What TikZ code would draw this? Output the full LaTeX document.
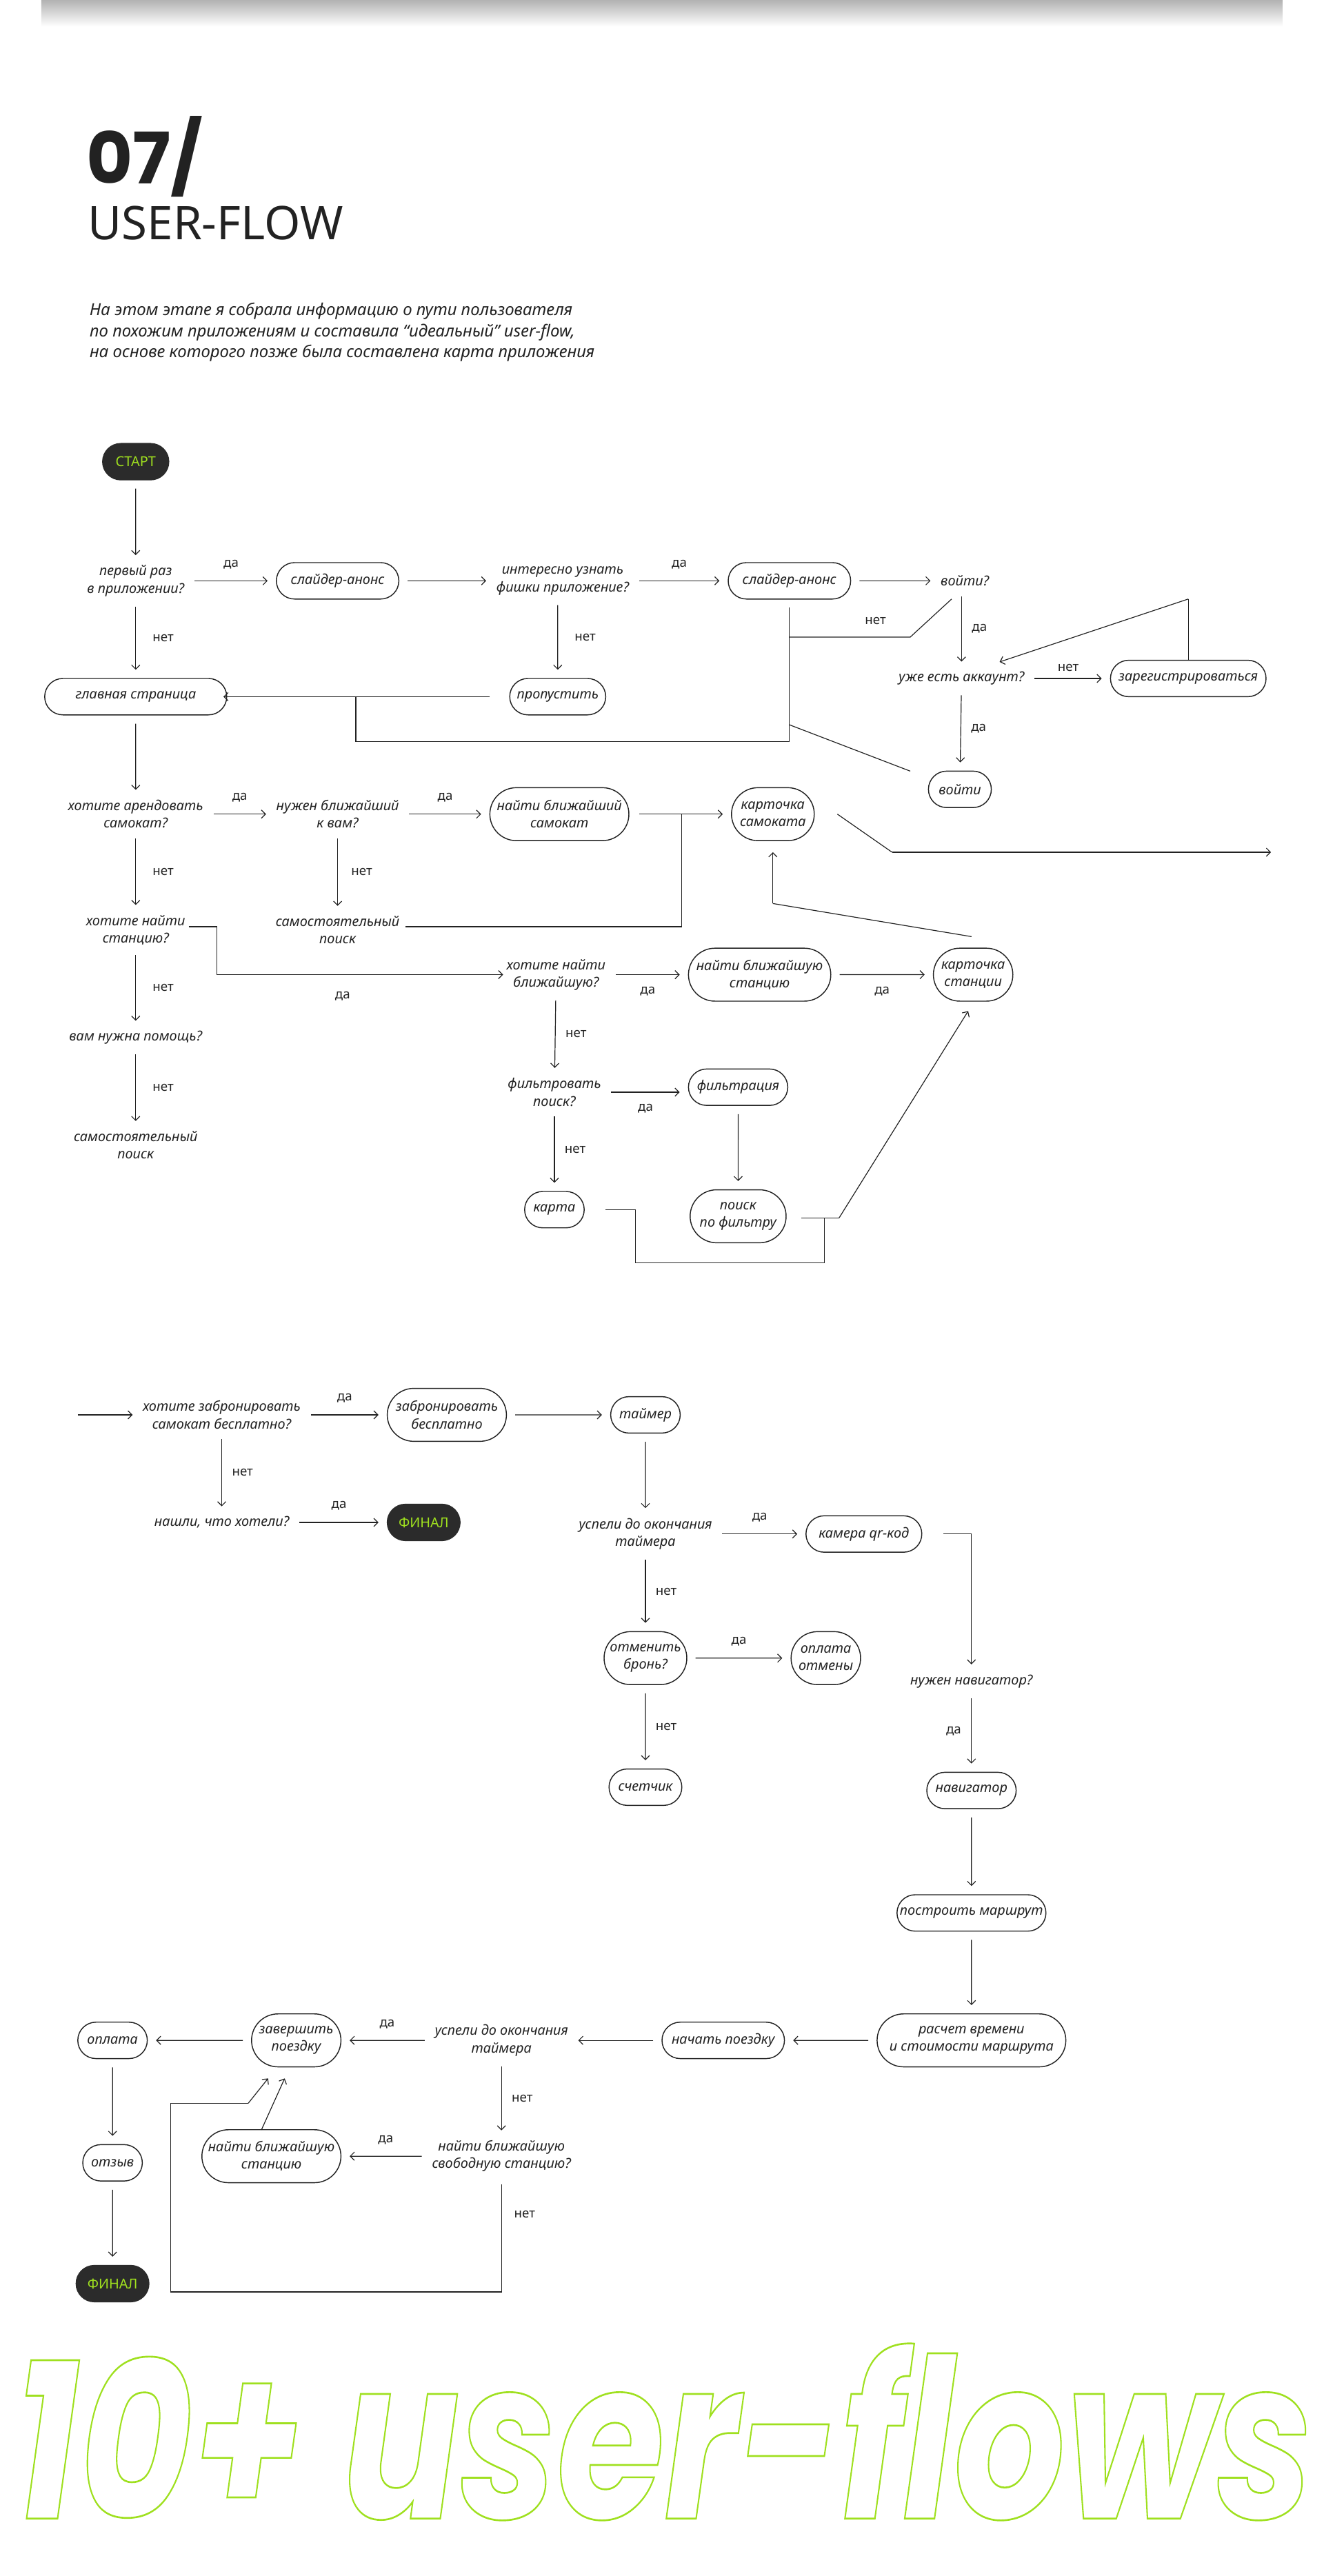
\documentclass[tikz,border=0pt]{standalone}
\usepackage{fontspec}
\setmainfont{Noto Sans}
\newfontfamily\bigf{Poppins}
\usetikzlibrary{arrows.meta,shapes.misc}
\definecolor{lime}{HTML}{9FE01F}
\definecolor{dark}{HTML}{2B2B2B}
\definecolor{ink}{HTML}{222222}
\begin{document}
\begin{tikzpicture}[x=1pt,y=-1pt,
 every node/.style={font=\fontsize{8.3}{10.5}\selectfont\itshape, align=center, inner sep=1pt, text=ink},
 pill/.style={draw=ink, line width=0.6pt, rounded rectangle, minimum height=22, inner xsep=5},
 tall/.style={pill, minimum height=32},
 dark/.style={pill, fill=dark, draw=dark, text=lime, font=\fontsize{8.3}{10}\selectfont\upshape},
 lbl/.style={font=\fontsize{7.8}{10}\selectfont\upshape},
 arr/.style={draw=ink,-{Straight Barb[length=2.5pt,width=5pt]}, line width=0.5pt, shorten <=5pt, shorten >=5pt},
 ln/.style={draw=ink,line width=0.5pt},
 la/.style={draw=ink,-{Straight Barb[length=2.5pt,width=5pt]}, line width=0.5pt}]
\useasboundingbox (0,0) rectangle (800,1556.7);
\shade[top color=black!30, bottom color=white] (25,0) rectangle (775,16);
% heading
\node[anchor=base west, font=\bigf\fontsize{43}{43}\selectfont\bfseries, inner sep=0] (h1) at (52,111) {07/};
\node[anchor=base west, font=\fontsize{28}{28}\selectfont, inner sep=0] (h2) at (53,145) {USER-FLOW};
\node[anchor=north west, align=left, font=\fontsize{10}{12.6}\selectfont\itshape, inner sep=0] (para) at (54,183)
 {На этом этапе я собрала информацию о пути пользователя\\по похожим приложениям и составила “идеальный” user-flow,\\на основе которого позже была составлена карта приложения};
% ---- upper flow
\node[dark, minimum width=50] (start) at (82,279) {СТАРТ};
\node (q1) at (82,351) {первый раз\\в приложении?};
\node[pill, minimum width=84] (sl1) at (204,351) {слайдер-анонс};
\node (q2) at (340,351) {интересно узнать\\фишки приложение?};
\node[pill, minimum width=84] (sl2) at (477,351) {слайдер-анонс};
\node (q3) at (583,351) {войти?};
\node (q4) at (581,410) {уже есть аккаунт?};
\node[pill, minimum width=104] (reg) at (718,410) {зарегистрироваться};
\node[pill, minimum width=48] (login) at (580,477) {войти};
\node[pill, minimum width=68] (skip) at (337,421) {пропустить};
\node[pill, minimum width=120] (main) at (82,421) {главная страница};
\draw[arr] (start) -- (q1);
\draw[arr] (q1) -- (sl1) node[lbl, midway, above=6pt] {да};
\draw[arr] (sl1) -- (q2);
\draw[arr] (q2) -- (sl2) node[lbl, midway, above=6pt] {да};
\draw[arr] (sl2) -- (q3);
\draw[arr] (q1) -- (main) node[lbl, midway, right=9pt] {нет};
\draw[arr] (q2.south -| skip) -- (skip) node[lbl, midway, right=9pt] {нет};
\draw[arr] (q3.south -| q4) -- (q4) node[lbl, midway, right=5pt] {да};
\draw[arr] (q4) -- (reg) node[lbl, midway, above=3pt] {нет};
\draw[arr] (q4) -- (login) node[lbl, midway, right=5pt] {да};
\coordinate (r1) at (718,362);
\coordinate (r2) at (604,400);
\draw[ln] (reg.north) -- (r1);
\draw[la] (r1) -- (r2);
\coordinate (w1) at (575,362); \coordinate (w2) at (550,385); \coordinate (w3) at (477,385);
\draw[ln] (w1) -- (w2) -- (w3);
\node[lbl] at (529,375) {нет};
\coordinate (s2b) at (477,367); \coordinate (s2c) at (477,448); \coordinate (s2d) at (477,438);
\coordinate (l1) at (550,466);
\draw[ln] (s2b) -- (s2c) -- (215,448) -- (215,421);
\draw[ln] (s2d) -- (l1);
\coordinate (sk1) at (296,421); \coordinate (mn1) at (135,421);
\draw[la] (sk1) -- (mn1);
% ---- rent
\node (q5) at (82,492) {хотите арендовать\\самокат?};
\node (q6) at (204,492) {нужен ближайший\\к вам?};
\node[tall, minimum width=94] (near) at (338,492) {найти ближайший\\самокат};
\node[tall, minimum width=60] (card) at (467,492) {карточка\\самоката};
\node (q7) at (82,562) {хотите найти\\станцию?};
\node (self1) at (204,562) {самостоятельный\\поиск};
\node (q8) at (82,627) {вам нужна помощь?};
\node (self2) at (82,692) {самостоятельный\\поиск};
\draw[arr] (main) -- (q5);
\draw[arr] (q5) -- (q6) node[lbl, midway, above=6pt] {да};
\draw[arr] (q6) -- (near) node[lbl, midway, above=6pt] {да};
\coordinate (j1) at (412,492);
\draw[ln] (near.east) ++(6,0) -- (j1);
\draw[arr, shorten <=0pt] (j1) -- (card);
\draw[ln] (j1) -- (412,560) -- (245,560);
\draw[arr] (q5) -- (q7) node[lbl, midway, right=9pt] {нет};
\draw[arr] (q6) -- (self1) node[lbl, midway, right=7pt] {нет};
\draw[arr] (q7) -- (q8) node[lbl, midway, right=9pt] {нет};
\draw[arr] (q8) -- (self2) node[lbl, midway, right=9pt] {нет};
\coordinate (c1) at (506,492); \coordinate (c2) at (539,515); \coordinate (c3) at (768,515);
\draw[ln] (c1) -- (c2); \draw[la] (c2) -- (c3);
% stations
\node (q9) at (336,589) {хотите найти\\ближайшую?};
\node[tall, minimum width=96] (nst) at (459,589) {найти ближайшую\\станцию};
\node[tall, minimum width=58] (cst) at (588,589) {карточка\\станции};
\coordinate (t1) at (114,560);
\draw[ln] (t1) -- (131,560) -- (131,589);
\draw[la] (131,589) -- (304,589);
\node[lbl] at (207,602) {да};
\draw[arr] (q9) -- (nst) node[lbl, midway, below=6pt] {да};
\draw[arr] (nst) -- (cst) node[lbl, midway, below=6pt] {да};
\coordinate (u1) at (587,566); \coordinate (u2) at (467,546); \coordinate (u3) at (467,515);
\draw[ln] (u1) -- (u2); \draw[la] (u2) -- (u3);
\node (q10) at (335,660) {фильтровать\\поиск?};
\node[pill, minimum width=70] (filt) at (446,657) {фильтрация};
\node[tall, minimum width=68] (pf) at (446,735) {поиск\\по фильтру};
\node[pill, minimum width=46] (map) at (335,731) {карта};
\draw[arr] (q9) -- (q10) node[lbl, midway, right=5pt] {нет};
\draw[arr] (q10.east) -- (q10.east -| filt.west) node[lbl, midway, below=6pt] {да};
\draw[arr] (filt) -- (pf);
\draw[arr] (q10) -- (map) node[lbl, midway, right=5pt] {нет};
\coordinate (m1) at (366,731); \coordinate (m2) at (498,736); \coordinate (p1) at (484,736);
\coordinate (p2) at (507,736); \coordinate (p3) at (585,611);
\draw[ln] (m1) -- (384,731) -- (384,763) -- (498,763) -- (m2);
\draw[ln] (p1) -- (p2); \draw[la] (p2) -- (p3);
% ---- lower section
\node (b1) at (134,855) {хотите забронировать\\самокат бесплатно?};
\node[tall, minimum width=82] (book) at (270,855) {забронировать\\бесплатно};
\node[pill, minimum width=52] (tim) at (390,855) {таймер};
\node (b2) at (134,920) {нашли, что хотели?};
\node[dark, minimum width=54] (fin1) at (256,920) {ФИНАЛ};
\coordinate (e1) at (47,855);
\draw[arr, shorten <=0pt] (e1) -- (b1);
\draw[arr] (b1) -- (book) node[lbl, midway, above=6pt] {да};
\draw[arr] (book) -- (tim);
\draw[arr] (b1) -- (b2) node[lbl, midway, right=5pt] {нет};
\draw[arr] (b2) -- (fin1) node[lbl, midway, above=6pt] {да};
\node (t2) at (390,927) {успели до окончания\\таймера};
\node[pill, minimum width=80] (cam) at (522,927) {камера qr-код};
\node (nav) at (587,1016) {нужен навигатор?};
\node[pill, minimum width=64] (navi) at (587,1082) {навигатор};
\node[pill, minimum width=100] (route) at (587,1156) {построить маршрут};
\node[tall, minimum width=112] (calc) at (587,1233) {расчет времени\\и стоимости маршрута};
\node[pill, minimum width=84] (go) at (437,1233) {начать поездку};
\draw[arr] (tim) -- (t2);
\draw[arr] (t2) -- (cam) node[lbl, midway, above=6pt] {да};
\coordinate (k1) at (570,927);
\draw[ln] (k1) -- (587,927);
\draw[arr, shorten <=0pt] (587,927) -- (nav);
\draw[arr] (nav) -- (navi) node[lbl, midway, left=5pt] {да};
\draw[arr] (navi) -- (route);
\draw[arr] (route) -- (calc);
\draw[arr] (calc) -- (go);
\node[tall, minimum width=60] (cancel) at (390,1002) {отменить\\бронь?};
\node[tall, minimum width=52] (payc) at (499,1002) {оплата\\отмены};
\node[pill, minimum width=54] (cnt) at (390,1080) {счетчик};
\draw[arr] (t2) -- (cancel) node[lbl, midway, right=5pt] {нет};
\draw[arr] (cancel) -- (payc) node[lbl, midway, above=6pt] {да};
\draw[arr] (cancel) -- (cnt) node[lbl, midway, right=5pt] {нет};
\node (t3) at (303,1233) {успели до окончания\\таймера};
\node[tall, minimum width=64] (fin) at (179,1233) {завершить\\поездку};
\node[pill, minimum width=52] (pay) at (68,1233) {оплата};
\node[pill, minimum width=46] (rev) at (68,1307) {отзыв};
\node[dark, minimum width=54] (fin2) at (68,1380) {ФИНАЛ};
\node (t4) at (303,1303) {найти ближайшую\\свободную станцию?};
\node[tall, minimum width=94] (nst2) at (164,1303) {найти ближайшую\\станцию};
\draw[arr] (go) -- (t3);
\draw[arr] (t3) -- (fin) node[lbl, midway, above=6pt] {да};
\draw[arr] (fin) -- (pay);
\draw[arr] (pay) -- (rev);
\draw[arr] (rev) -- (fin2);
\draw[arr] (t3) -- (t4) node[lbl, midway, right=5pt] {нет};
\draw[arr] (t4) -- (nst2) node[lbl, midway, above=6pt] {да};
\coordinate (n1) at (158,1287); \coordinate (n2) at (172,1256);
\draw[la] (n1) -- (n2);
\coordinate (o1) at (303,1320); \coordinate (o2) at (150,1271); \coordinate (o3) at (162,1256);
\draw[ln] (o1) -- (303,1385) -- (103,1385) -- (103,1271) -- (o2);
\draw[la] (o2) -- (o3);
\node[lbl] at (317,1338) {нет};
% big outline text
\node[anchor=base west, inner sep=0, text=lime, font=\bigf\fontsize{135}{135}\selectfont\bfseries\itshape, xscale=0.78] (big) at (8,1522)
 {\special{pdf:literal direct 1 Tr 1.1 w}10+ user-flows\special{pdf:literal direct 0 Tr}};
\end{tikzpicture}
\end{document}
